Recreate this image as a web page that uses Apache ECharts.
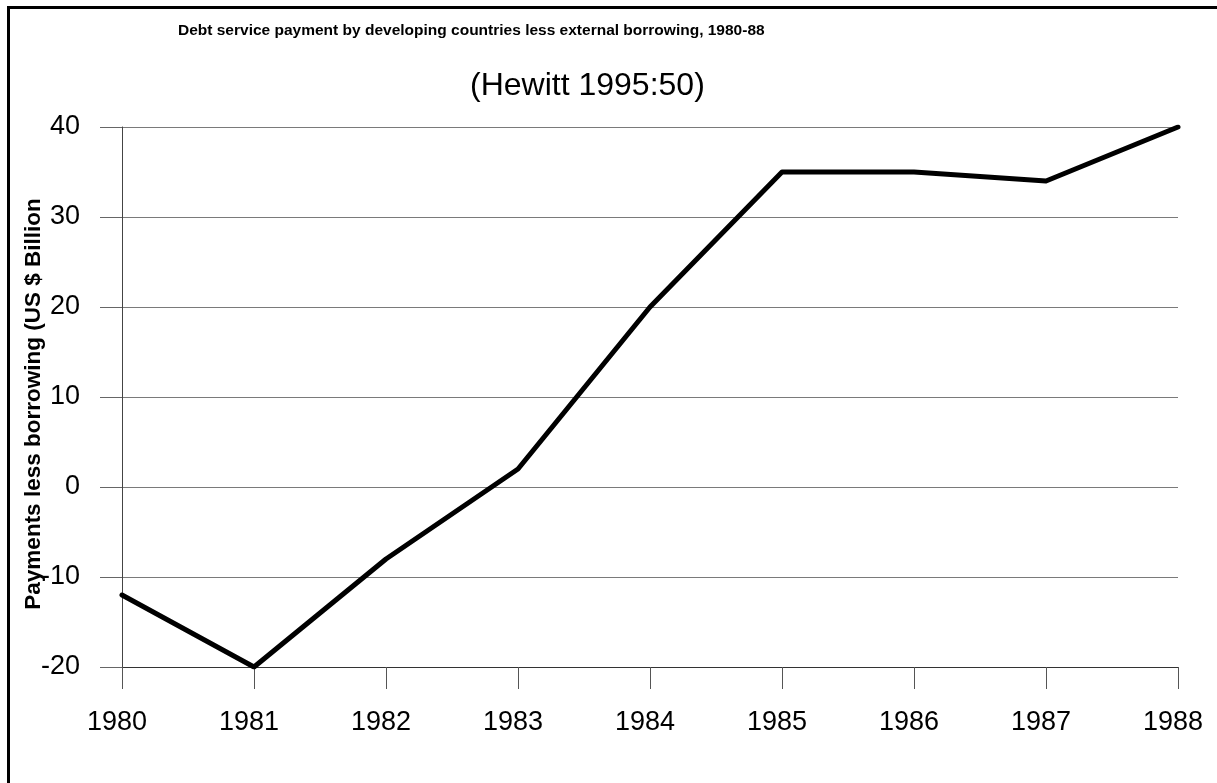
<!DOCTYPE html>
<html><head><meta charset="utf-8">
<script src="https://cdn.jsdelivr.net/npm/echarts@6/dist/echarts.min.js"></script>
<style>
html,body{margin:0;padding:0;background:#fff;overflow:hidden;}
#frame{position:absolute;left:7px;top:6px;width:1220px;height:800px;border-left:3px solid #000;border-top:3px solid #000;}
#c{position:absolute;left:0;top:0;width:1217px;height:783px;}
</style></head><body>
<div id="frame"></div>
<div id="c"></div>
<script>
const categories = ['1980','1981','1982','1983','1984','1985','1986','1987','1988'];
const values = [-12, -20, -8, 2, 20, 35, 35, 34, 40];
const titleText = 'Debt service payment by developing countries less external borrowing, 1980-88';
const subtitleText = '(Hewitt 1995:50)';
const yName = 'Payments less borrowing (US $ Billion';

const chart = echarts.init(document.getElementById('c'), null, {renderer:'canvas'});
chart.setOption({
  animation:false,
  backgroundColor:'transparent',
  title:[
    {text:titleText, left:178, top:23, padding:0, textStyle:{fontFamily:'Liberation Sans, Arial', fontWeight:'bold', fontSize:15.5, color:'#000'}},
    {text:subtitleText, left:470, top:70, padding:0, textStyle:{fontFamily:'Liberation Sans, Arial', fontWeight:'normal', fontSize:32, color:'#000'}}
  ],
  grid:{left:122, right:39, top:127, bottom:116, containLabel:false},
  xAxis:{
    type:'category', data:categories, boundaryGap:false,
    axisLine:{show:true, onZero:false, lineStyle:{color:'#333', width:1}},
    axisTick:{show:true, alignWithLabel:true, length:22, lineStyle:{color:'#555', width:1}},
    axisLabel:{margin:42, padding:[0,10,0,0], fontFamily:'Liberation Sans, Arial', fontSize:27, color:'#000'},
    splitLine:{show:false}
  },
  yAxis:{
    type:'value', min:-20, max:40, interval:10,
    name:yName, nameLocation:'middle', nameGap:77, nameRotate:90, nameMoveOverlap:false,
    nameTextStyle:{fontFamily:'Liberation Sans, Arial', fontWeight:'bold', fontSize:22.5, color:'#000', padding:[0,14,0,0]},
    axisLine:{show:true, lineStyle:{color:'#444', width:1}},
    axisTick:{show:true, length:22, lineStyle:{color:'#666', width:1}},
    axisLabel:{margin:42, fontFamily:'Liberation Sans, Arial', fontSize:27, color:'#000'},
    splitLine:{show:true, lineStyle:{color:'#7a7a7a', width:1}}
  },
  series:[{
    type:'line', data:values, symbol:'none', smooth:false,
    lineStyle:{color:'#000', width:5, cap:'round', join:'round'}
  }]
});
</script>
</body></html>
